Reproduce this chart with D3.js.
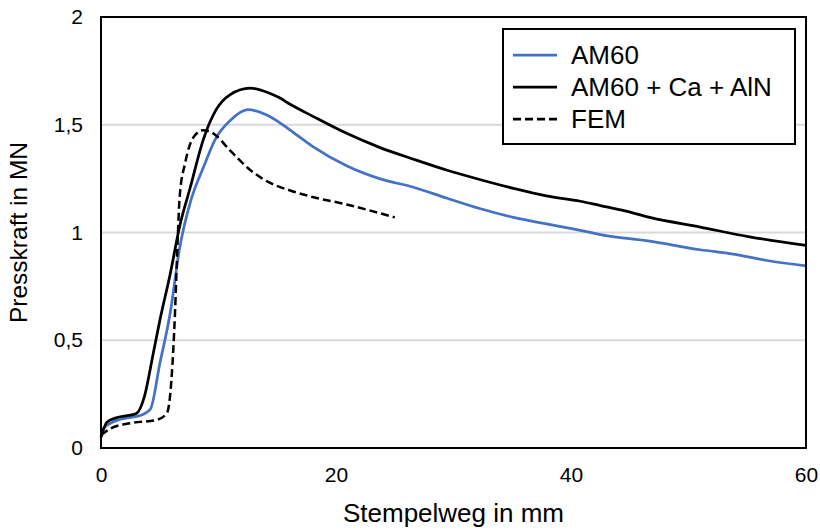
<!DOCTYPE html>
<html>
<head>
<meta charset="utf-8">
<script src="https://cdn.jsdelivr.net/npm/d3@7"></script>
<style>
  body { margin: 0; background: #fff; }
  text { font-family: "Liberation Sans", Arial, sans-serif; fill: #000; }
</style>
</head>
<body>
<div class="chart"></div>
<script>
// Stempelweg (mm) / Presskraft (MN)
const am60 = [[0,0.05],[0.2,0.09],[1.0,0.12],[2.2,0.14],[3.3,0.15],[4.2,0.18],[5.0,0.39],[5.9,0.63],
  [6.7,0.93],[7.6,1.14],[8.7,1.30],[9.8,1.44],[11.0,1.52],[12.5,1.57],[14.1,1.545],[15.2,1.51],[16.1,1.475],
  [18.0,1.40],[20.9,1.31],[23.7,1.25],[26.6,1.21],[29.4,1.16],[32.3,1.11],[35.1,1.07],[37.9,1.04],
  [40.8,1.01],[42.5,0.99],[46.7,0.96],[51.0,0.92],[53.8,0.90],[56.7,0.87],[60,0.845]];

const am60CaAln = [[0,0.05],[0.5,0.12],[1.3,0.14],[3.0,0.16],[3.7,0.24],[4.45,0.44],[5.0,0.59],[5.9,0.81],
  [6.7,1.03],[7.6,1.21],[8.7,1.43],[9.8,1.57],[11.0,1.64],[12.7,1.67],[14.4,1.645],[15.2,1.625],[16.1,1.595],
  [18.0,1.54],[20.9,1.46],[23.7,1.395],[26.6,1.34],[29.4,1.29],[32.3,1.245],[35.1,1.205],[37.9,1.17],
  [40.8,1.145],[42.5,1.125],[44.6,1.10],[46.7,1.07],[51.0,1.025],[55.2,0.98],[60,0.94]];

const fem = [[0,0.06],[0.8,0.09],[2.5,0.115],[4.7,0.13],[5.6,0.16],[6.0,0.32],[6.3,0.63],[6.5,0.93],
  [6.7,1.17],[7.15,1.32],[7.85,1.44],[8.7,1.475],[9.55,1.46],[11.0,1.38],[12.7,1.29],[14.4,1.23],
  [16.1,1.195],[18.0,1.165],[20.9,1.13],[25.0,1.07]];

const xTicks = [0, 20, 40, 60];
const yTicks = [0, 0.5, 1, 1.5, 2];
const seriesNames = ['AM60', 'AM60 + Ca + AlN', 'FEM'];

const margin = { top: 17, right: 14, bottom: 82, left: 101 },
    width = 820 - margin.left - margin.right,
    height = 530 - margin.top - margin.bottom;

const svg = d3.select('div.chart').append('svg')
    .attr('width', 820)
    .attr('height', 530)
  .append('g')
    .attr('transform', `translate(${margin.left},${margin.top})`);

const x = d3.scaleLinear().domain([0, 60]).range([0, width]);
const y = d3.scaleLinear().domain([0, 2]).range([height, 0]);

// gridlines
svg.append('g')
    .selectAll('line')
    .data(yTicks.filter(d => d > 0 && d < 2))
    .enter().append('line')
      .attr('x1', 0).attr('x2', width)
      .attr('y1', d => y(d)).attr('y2', d => y(d))
      .attr('stroke', '#d9d9d9')
      .attr('stroke-width', 2);

const fmt = d => String(d).replace('.', ',');

svg.append('g')
    .attr('transform', `translate(0,${height})`)
    .call(d3.axisBottom(x).tickValues(xTicks).tickSize(0).tickPadding(19).tickFormat(fmt))
    .call(g => g.select('.domain').remove())
    .selectAll('text').style('font-size', '21px').style('font-family', 'Liberation Sans, Arial, sans-serif');

svg.append('g')
    .call(d3.axisLeft(y).tickValues(yTicks).tickSize(0).tickPadding(18).tickFormat(fmt))
    .call(g => g.select('.domain').remove())
    .selectAll('text').style('font-size', '21px').style('font-family', 'Liberation Sans, Arial, sans-serif');

const line = d3.line()
    .x(d => x(d[0]))
    .y(d => y(d[1]))
    .curve(d3.curveMonotoneX);

svg.append('path').datum(am60)
    .attr('d', line).attr('fill', 'none')
    .attr('stroke', '#4472c4').attr('stroke-width', 2.75);

svg.append('path').datum(am60CaAln)
    .attr('d', line).attr('fill', 'none')
    .attr('stroke', '#000').attr('stroke-width', 2.75);

svg.append('path').datum(fem)
    .attr('d', line).attr('fill', 'none')
    .attr('stroke', '#000').attr('stroke-width', 2.5)
    .attr('stroke-dasharray', '8,4');

// plot frame
svg.append('rect')
    .attr('width', width).attr('height', height)
    .attr('fill', 'none').attr('stroke', '#000').attr('stroke-width', 2);

// axis titles
svg.append('text')
    .attr('x', width / 2).attr('y', height + 74)
    .attr('text-anchor', 'middle')
    .style('font-size', '26px')
    .text('Stempelweg in mm');

svg.append('text')
    .attr('transform', `translate(${-74},${height / 2}) rotate(-90)`)
    .attr('text-anchor', 'middle')
    .style('font-size', '24.5px')
    .text('Presskraft in MN');

// legend
const legend = svg.append('g').attr('transform', `translate(${503 - margin.left},${29 - margin.top})`);
legend.append('rect')
    .attr('width', 292).attr('height', 115)
    .attr('fill', '#fff').attr('stroke', '#000').attr('stroke-width', 2);

const styles = [
  { stroke: '#4472c4', dash: null },
  { stroke: '#000', dash: null },
  { stroke: '#000', dash: '8,4' }
];

seriesNames.forEach((name, i) => {
  const cy = 26 + i * 32;
  legend.append('line')
      .attr('x1', 10).attr('x2', 54)
      .attr('y1', cy).attr('y2', cy)
      .attr('stroke', styles[i].stroke)
      .attr('stroke-width', 2.75)
      .attr('stroke-dasharray', styles[i].dash);
  legend.append('text')
      .attr('x', 68).attr('y', cy)
      .attr('dy', '0.36em')
      .style('font-size', '26px')
      .text(name);
});
</script>
</body>
</html>
